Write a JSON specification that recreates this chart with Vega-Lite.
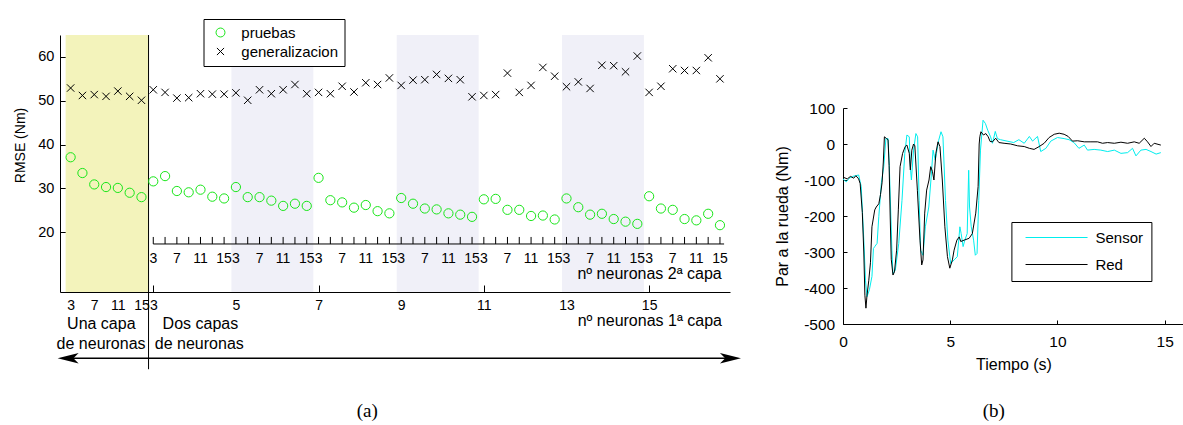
{
  "$schema": "https://vega.github.io/schema/vega-lite/v6.json",
  "padding": {"left": 13, "top": 18, "right": 0, "bottom": 0},
  "bounds": "flush",
  "spacing": 113,
  "resolve": {"scale": {"color": "independent", "shape": "independent"}, "legend": {"color": "independent", "shape": "independent"}},
  "config": {
    "view": {"stroke": null},
    "font": "Liberation Sans",
    "axis": {"grid": false, "domainColor": "black", "tickColor": "black", "labelColor": "black", "titleColor": "black", "titleFontWeight": "normal", "labelOverlap": false, "labelFlush": false, "labelBound": false, "zindex": 1, "labelFont": "Liberation Sans", "titleFont": "Liberation Sans"},
    "legend": {"labelFont": "Liberation Sans", "labelColor": "black"}
  },
  "datasets": {
    "rmse": [
      {"idx": 0, "capas": 1, "n1": 3, "n2": null, "pruebas": 37.1, "generalizacion": 52.9},
      {"idx": 1, "capas": 1, "n1": 5, "n2": null, "pruebas": 33.5, "generalizacion": 51.2},
      {"idx": 2, "capas": 1, "n1": 7, "n2": null, "pruebas": 30.9, "generalizacion": 51.4},
      {"idx": 3, "capas": 1, "n1": 9, "n2": null, "pruebas": 30.3, "generalizacion": 51.0},
      {"idx": 4, "capas": 1, "n1": 11, "n2": null, "pruebas": 30.1, "generalizacion": 52.2},
      {"idx": 5, "capas": 1, "n1": 13, "n2": null, "pruebas": 29.0, "generalizacion": 51.0},
      {"idx": 6, "capas": 1, "n1": 15, "n2": null, "pruebas": 28.0, "generalizacion": 50.1},
      {"idx": 7, "capas": 2, "n1": 3, "n2": 3, "pruebas": 31.6, "generalizacion": 52.5},
      {"idx": 8, "capas": 2, "n1": 3, "n2": 5, "pruebas": 32.8, "generalizacion": 51.9},
      {"idx": 9, "capas": 2, "n1": 3, "n2": 7, "pruebas": 29.4, "generalizacion": 50.6},
      {"idx": 10, "capas": 2, "n1": 3, "n2": 9, "pruebas": 29.1, "generalizacion": 50.7},
      {"idx": 11, "capas": 2, "n1": 3, "n2": 11, "pruebas": 29.7, "generalizacion": 51.6},
      {"idx": 12, "capas": 2, "n1": 3, "n2": 13, "pruebas": 28.1, "generalizacion": 51.5},
      {"idx": 13, "capas": 2, "n1": 3, "n2": 15, "pruebas": 27.7, "generalizacion": 51.5},
      {"idx": 14, "capas": 2, "n1": 5, "n2": 3, "pruebas": 30.3, "generalizacion": 51.8},
      {"idx": 15, "capas": 2, "n1": 5, "n2": 5, "pruebas": 28.0, "generalizacion": 50.1},
      {"idx": 16, "capas": 2, "n1": 5, "n2": 7, "pruebas": 28.0, "generalizacion": 52.5},
      {"idx": 17, "capas": 2, "n1": 5, "n2": 9, "pruebas": 27.2, "generalizacion": 51.6},
      {"idx": 18, "capas": 2, "n1": 5, "n2": 11, "pruebas": 26.0, "generalizacion": 52.5},
      {"idx": 19, "capas": 2, "n1": 5, "n2": 13, "pruebas": 26.5, "generalizacion": 53.7},
      {"idx": 20, "capas": 2, "n1": 5, "n2": 15, "pruebas": 26.0, "generalizacion": 51.6},
      {"idx": 21, "capas": 2, "n1": 7, "n2": 3, "pruebas": 32.4, "generalizacion": 51.9},
      {"idx": 22, "capas": 2, "n1": 7, "n2": 5, "pruebas": 27.3, "generalizacion": 51.6},
      {"idx": 23, "capas": 2, "n1": 7, "n2": 7, "pruebas": 26.8, "generalizacion": 53.3},
      {"idx": 24, "capas": 2, "n1": 7, "n2": 9, "pruebas": 25.6, "generalizacion": 52.0},
      {"idx": 25, "capas": 2, "n1": 7, "n2": 11, "pruebas": 26.2, "generalizacion": 54.1},
      {"idx": 26, "capas": 2, "n1": 7, "n2": 13, "pruebas": 24.8, "generalizacion": 53.7},
      {"idx": 27, "capas": 2, "n1": 7, "n2": 15, "pruebas": 24.3, "generalizacion": 55.2},
      {"idx": 28, "capas": 2, "n1": 9, "n2": 3, "pruebas": 27.8, "generalizacion": 53.5},
      {"idx": 29, "capas": 2, "n1": 9, "n2": 5, "pruebas": 26.5, "generalizacion": 54.7},
      {"idx": 30, "capas": 2, "n1": 9, "n2": 7, "pruebas": 25.4, "generalizacion": 54.8},
      {"idx": 31, "capas": 2, "n1": 9, "n2": 9, "pruebas": 25.2, "generalizacion": 56.0},
      {"idx": 32, "capas": 2, "n1": 9, "n2": 11, "pruebas": 24.3, "generalizacion": 55.1},
      {"idx": 33, "capas": 2, "n1": 9, "n2": 13, "pruebas": 24.0, "generalizacion": 54.8},
      {"idx": 34, "capas": 2, "n1": 9, "n2": 15, "pruebas": 23.5, "generalizacion": 50.9},
      {"idx": 35, "capas": 2, "n1": 11, "n2": 3, "pruebas": 27.5, "generalizacion": 51.2},
      {"idx": 36, "capas": 2, "n1": 11, "n2": 5, "pruebas": 27.6, "generalizacion": 51.4},
      {"idx": 37, "capas": 2, "n1": 11, "n2": 7, "pruebas": 25.1, "generalizacion": 56.3},
      {"idx": 38, "capas": 2, "n1": 11, "n2": 9, "pruebas": 25.1, "generalizacion": 51.9},
      {"idx": 39, "capas": 2, "n1": 11, "n2": 11, "pruebas": 23.7, "generalizacion": 53.5},
      {"idx": 40, "capas": 2, "n1": 11, "n2": 13, "pruebas": 23.8, "generalizacion": 57.6},
      {"idx": 41, "capas": 2, "n1": 11, "n2": 15, "pruebas": 22.9, "generalizacion": 55.6},
      {"idx": 42, "capas": 2, "n1": 13, "n2": 3, "pruebas": 27.7, "generalizacion": 53.2},
      {"idx": 43, "capas": 2, "n1": 13, "n2": 5, "pruebas": 25.7, "generalizacion": 54.3},
      {"idx": 44, "capas": 2, "n1": 13, "n2": 7, "pruebas": 24.0, "generalizacion": 52.8},
      {"idx": 45, "capas": 2, "n1": 13, "n2": 9, "pruebas": 24.2, "generalizacion": 58.1},
      {"idx": 46, "capas": 2, "n1": 13, "n2": 11, "pruebas": 23.0, "generalizacion": 58.0},
      {"idx": 47, "capas": 2, "n1": 13, "n2": 13, "pruebas": 22.4, "generalizacion": 56.6},
      {"idx": 48, "capas": 2, "n1": 13, "n2": 15, "pruebas": 21.9, "generalizacion": 60.2},
      {"idx": 49, "capas": 2, "n1": 15, "n2": 3, "pruebas": 28.2, "generalizacion": 51.9},
      {"idx": 50, "capas": 2, "n1": 15, "n2": 5, "pruebas": 25.4, "generalizacion": 53.3},
      {"idx": 51, "capas": 2, "n1": 15, "n2": 7, "pruebas": 25.1, "generalizacion": 57.3},
      {"idx": 52, "capas": 2, "n1": 15, "n2": 9, "pruebas": 23.0, "generalizacion": 56.9},
      {"idx": 53, "capas": 2, "n1": 15, "n2": 11, "pruebas": 22.7, "generalizacion": 56.9},
      {"idx": 54, "capas": 2, "n1": 15, "n2": 13, "pruebas": 24.2, "generalizacion": 59.8},
      {"idx": 55, "capas": 2, "n1": 15, "n2": 15, "pruebas": 21.6, "generalizacion": 55.0}
    ],
    "par": [
      {"t": 0, "serie": "Sensor", "par": -97}, {"t": 0.15, "serie": "Sensor", "par": -105}, {"t": 0.3, "serie": "Sensor", "par": -95}, {"t": 0.45, "serie": "Sensor", "par": -90}, {"t": 0.6, "serie": "Sensor", "par": -88}, {"t": 0.73, "serie": "Sensor", "par": -86}, {"t": 0.85, "serie": "Sensor", "par": -118}, {"t": 0.97, "serie": "Sensor", "par": -267}, {"t": 1.05, "serie": "Sensor", "par": -380}, {"t": 1.12, "serie": "Sensor", "par": -424}, {"t": 1.23, "serie": "Sensor", "par": -405}, {"t": 1.35, "serie": "Sensor", "par": -368}, {"t": 1.42, "serie": "Sensor", "par": -290}, {"t": 1.48, "serie": "Sensor", "par": -285}, {"t": 1.59, "serie": "Sensor", "par": -276}, {"t": 1.67, "serie": "Sensor", "par": -201}, {"t": 1.79, "serie": "Sensor", "par": -108}, {"t": 1.9, "serie": "Sensor", "par": -63}, {"t": 2.0, "serie": "Sensor", "par": 15}, {"t": 2.1, "serie": "Sensor", "par": 15}, {"t": 2.16, "serie": "Sensor", "par": -63}, {"t": 2.28, "serie": "Sensor", "par": -295}, {"t": 2.33, "serie": "Sensor", "par": -360}, {"t": 2.44, "serie": "Sensor", "par": -350}, {"t": 2.6, "serie": "Sensor", "par": -276}, {"t": 2.75, "serie": "Sensor", "par": -157}, {"t": 2.88, "serie": "Sensor", "par": -26}, {"t": 2.98, "serie": "Sensor", "par": 25}, {"t": 3.09, "serie": "Sensor", "par": 20}, {"t": 3.14, "serie": "Sensor", "par": -63}, {"t": 3.19, "serie": "Sensor", "par": -100}, {"t": 3.29, "serie": "Sensor", "par": -17}, {"t": 3.4, "serie": "Sensor", "par": 29}, {"t": 3.48, "serie": "Sensor", "par": 20}, {"t": 3.55, "serie": "Sensor", "par": -157}, {"t": 3.62, "serie": "Sensor", "par": -295}, {"t": 3.73, "serie": "Sensor", "par": -309}, {"t": 3.84, "serie": "Sensor", "par": -230}, {"t": 4.0, "serie": "Sensor", "par": -175}, {"t": 4.1, "serie": "Sensor", "par": -100}, {"t": 4.2, "serie": "Sensor", "par": -17}, {"t": 4.3, "serie": "Sensor", "par": -45}, {"t": 4.46, "serie": "Sensor", "par": 10}, {"t": 4.57, "serie": "Sensor", "par": 34}, {"t": 4.66, "serie": "Sensor", "par": 20}, {"t": 4.78, "serie": "Sensor", "par": -157}, {"t": 4.89, "serie": "Sensor", "par": -267}, {"t": 5.02, "serie": "Sensor", "par": -332}, {"t": 5.18, "serie": "Sensor", "par": -322}, {"t": 5.33, "serie": "Sensor", "par": -313}, {"t": 5.45, "serie": "Sensor", "par": -230}, {"t": 5.51, "serie": "Sensor", "par": -249}, {"t": 5.6, "serie": "Sensor", "par": -285}, {"t": 5.68, "serie": "Sensor", "par": -267}, {"t": 5.79, "serie": "Sensor", "par": -249}, {"t": 5.86, "serie": "Sensor", "par": -73}, {"t": 5.9, "serie": "Sensor", "par": -175}, {"t": 5.98, "serie": "Sensor", "par": -230}, {"t": 6.09, "serie": "Sensor", "par": -267}, {"t": 6.17, "serie": "Sensor", "par": -309}, {"t": 6.25, "serie": "Sensor", "par": -304}, {"t": 6.33, "serie": "Sensor", "par": -157}, {"t": 6.41, "serie": "Sensor", "par": -17}, {"t": 6.53, "serie": "Sensor", "par": 66}, {"t": 6.64, "serie": "Sensor", "par": 57}, {"t": 6.75, "serie": "Sensor", "par": 38}, {"t": 6.88, "serie": "Sensor", "par": 20}, {"t": 6.97, "serie": "Sensor", "par": 2}, {"t": 7.1, "serie": "Sensor", "par": 35}, {"t": 7.2, "serie": "Sensor", "par": 15}, {"t": 7.34, "serie": "Sensor", "par": 12}, {"t": 7.65, "serie": "Sensor", "par": 8}, {"t": 7.96, "serie": "Sensor", "par": 4}, {"t": 8.2, "serie": "Sensor", "par": 12}, {"t": 8.45, "serie": "Sensor", "par": 2}, {"t": 8.69, "serie": "Sensor", "par": 21}, {"t": 8.84, "serie": "Sensor", "par": 8}, {"t": 9.07, "serie": "Sensor", "par": 21}, {"t": 9.22, "serie": "Sensor", "par": -21}, {"t": 9.46, "serie": "Sensor", "par": -12}, {"t": 9.69, "serie": "Sensor", "par": 8}, {"t": 10.0, "serie": "Sensor", "par": 18}, {"t": 10.31, "serie": "Sensor", "par": 15}, {"t": 10.54, "serie": "Sensor", "par": 12}, {"t": 10.77, "serie": "Sensor", "par": 4}, {"t": 11.0, "serie": "Sensor", "par": -12}, {"t": 11.25, "serie": "Sensor", "par": -3}, {"t": 11.4, "serie": "Sensor", "par": -17}, {"t": 11.71, "serie": "Sensor", "par": -15}, {"t": 12.02, "serie": "Sensor", "par": -17}, {"t": 12.34, "serie": "Sensor", "par": -21}, {"t": 12.65, "serie": "Sensor", "par": -17}, {"t": 12.96, "serie": "Sensor", "par": -26}, {"t": 13.27, "serie": "Sensor", "par": -24}, {"t": 13.5, "serie": "Sensor", "par": -12}, {"t": 13.66, "serie": "Sensor", "par": -33}, {"t": 13.89, "serie": "Sensor", "par": -17}, {"t": 14.13, "serie": "Sensor", "par": -15}, {"t": 14.36, "serie": "Sensor", "par": -21}, {"t": 14.6, "serie": "Sensor", "par": -28}, {"t": 14.82, "serie": "Sensor", "par": -24},
      {"t": 0, "serie": "Red", "par": -92}, {"t": 0.2, "serie": "Red", "par": -97}, {"t": 0.35, "serie": "Red", "par": -90}, {"t": 0.5, "serie": "Red", "par": -95}, {"t": 0.6, "serie": "Red", "par": -88}, {"t": 0.73, "serie": "Red", "par": -97}, {"t": 0.8, "serie": "Red", "par": -110}, {"t": 0.9, "serie": "Red", "par": -190}, {"t": 0.97, "serie": "Red", "par": -300}, {"t": 1.02, "serie": "Red", "par": -420}, {"t": 1.07, "serie": "Red", "par": -456}, {"t": 1.12, "serie": "Red", "par": -420}, {"t": 1.2, "serie": "Red", "par": -380}, {"t": 1.28, "serie": "Red", "par": -330}, {"t": 1.35, "serie": "Red", "par": -230}, {"t": 1.48, "serie": "Red", "par": -183}, {"t": 1.55, "serie": "Red", "par": -175}, {"t": 1.67, "serie": "Red", "par": -166}, {"t": 1.75, "serie": "Red", "par": -140}, {"t": 1.82, "serie": "Red", "par": -108}, {"t": 1.88, "serie": "Red", "par": -50}, {"t": 1.93, "serie": "Red", "par": 20}, {"t": 2.03, "serie": "Red", "par": 15}, {"t": 2.1, "serie": "Red", "par": 12}, {"t": 2.15, "serie": "Red", "par": -60}, {"t": 2.2, "serie": "Red", "par": -200}, {"t": 2.25, "serie": "Red", "par": -320}, {"t": 2.33, "serie": "Red", "par": -364}, {"t": 2.4, "serie": "Red", "par": -355}, {"t": 2.5, "serie": "Red", "par": -295}, {"t": 2.58, "serie": "Red", "par": -183}, {"t": 2.66, "serie": "Red", "par": -63}, {"t": 2.78, "serie": "Red", "par": -26}, {"t": 2.9, "serie": "Red", "par": -7}, {"t": 2.98, "serie": "Red", "par": -3}, {"t": 3.09, "serie": "Red", "par": -26}, {"t": 3.14, "serie": "Red", "par": -72}, {"t": 3.21, "serie": "Red", "par": -17}, {"t": 3.29, "serie": "Red", "par": 0}, {"t": 3.35, "serie": "Red", "par": -5}, {"t": 3.47, "serie": "Red", "par": -130}, {"t": 3.59, "serie": "Red", "par": -267}, {"t": 3.67, "serie": "Red", "par": -336}, {"t": 3.73, "serie": "Red", "par": -322}, {"t": 3.81, "serie": "Red", "par": -192}, {"t": 3.9, "serie": "Red", "par": -128}, {"t": 4.01, "serie": "Red", "par": -100}, {"t": 4.09, "serie": "Red", "par": -63}, {"t": 4.17, "serie": "Red", "par": -76}, {"t": 4.24, "serie": "Red", "par": -100}, {"t": 4.33, "serie": "Red", "par": -26}, {"t": 4.43, "serie": "Red", "par": 6}, {"t": 4.52, "serie": "Red", "par": -7}, {"t": 4.63, "serie": "Red", "par": -100}, {"t": 4.75, "serie": "Red", "par": -230}, {"t": 4.87, "serie": "Red", "par": -313}, {"t": 4.98, "serie": "Red", "par": -345}, {"t": 5.1, "serie": "Red", "par": -322}, {"t": 5.18, "serie": "Red", "par": -295}, {"t": 5.31, "serie": "Red", "par": -267}, {"t": 5.42, "serie": "Red", "par": -258}, {"t": 5.49, "serie": "Red", "par": -271}, {"t": 5.65, "serie": "Red", "par": -267}, {"t": 5.88, "serie": "Red", "par": -262}, {"t": 6.03, "serie": "Red", "par": -249}, {"t": 6.19, "serie": "Red", "par": -192}, {"t": 6.3, "serie": "Red", "par": -118}, {"t": 6.35, "serie": "Red", "par": 0}, {"t": 6.38, "serie": "Red", "par": 20}, {"t": 6.43, "serie": "Red", "par": 34}, {"t": 6.55, "serie": "Red", "par": 25}, {"t": 6.66, "serie": "Red", "par": 29}, {"t": 6.77, "serie": "Red", "par": 20}, {"t": 6.86, "serie": "Red", "par": 7}, {"t": 6.97, "serie": "Red", "par": 6}, {"t": 7.12, "serie": "Red", "par": 16}, {"t": 7.27, "serie": "Red", "par": 4}, {"t": 7.51, "serie": "Red", "par": 2}, {"t": 7.82, "serie": "Red", "par": 0}, {"t": 8.14, "serie": "Red", "par": -5}, {"t": 8.45, "serie": "Red", "par": -7}, {"t": 8.69, "serie": "Red", "par": -12}, {"t": 8.91, "serie": "Red", "par": -15}, {"t": 9.15, "serie": "Red", "par": -7}, {"t": 9.38, "serie": "Red", "par": 2}, {"t": 9.61, "serie": "Red", "par": 18}, {"t": 9.85, "serie": "Red", "par": 27}, {"t": 10.08, "serie": "Red", "par": 30}, {"t": 10.31, "serie": "Red", "par": 27}, {"t": 10.5, "serie": "Red", "par": 21}, {"t": 10.7, "serie": "Red", "par": 8}, {"t": 10.94, "serie": "Red", "par": 9}, {"t": 11.25, "serie": "Red", "par": 6}, {"t": 11.56, "serie": "Red", "par": 6}, {"t": 11.87, "serie": "Red", "par": 6}, {"t": 12.1, "serie": "Red", "par": 2}, {"t": 12.34, "serie": "Red", "par": 4}, {"t": 12.65, "serie": "Red", "par": 2}, {"t": 12.96, "serie": "Red", "par": 5}, {"t": 13.27, "serie": "Red", "par": 2}, {"t": 13.58, "serie": "Red", "par": 6}, {"t": 13.81, "serie": "Red", "par": 2}, {"t": 14.05, "serie": "Red", "par": 16}, {"t": 14.2, "serie": "Red", "par": 6}, {"t": 14.36, "serie": "Red", "par": -7}, {"t": 14.51, "serie": "Red", "par": 2}, {"t": 14.82, "serie": "Red", "par": -3}
    ]
  },
  "hconcat": [
    {
      "width": 670,
      "height": 257,
      "layer": [
        {
          "data": {"name": "rmse"},
          "transform": [
            {"filter": "datum.capas == 1"},
            {"aggregate": [{"op": "min", "field": "idx", "as": "i0"}, {"op": "max", "field": "idx", "as": "i1"}]}
          ],
          "mark": {"type": "rect", "color": "#f3f3bb", "xOffset": -5, "x2Offset": 7},
          "encoding": {
            "x": {
              "field": "i0", "type": "quantitative",
              "scale": {"domain": [-0.9, 55.85], "nice": false, "zero": false},
              "axis": {
                "title": null,
                "values": [0, 1, 2, 3, 4, 5, 6, 7, 14, 21, 28, 35, 42, 49],
                "labelExpr": "datum.value < 7 ? (datum.value % 2 == 0 ? '' + (3 + 2 * datum.value) : '') : '' + (3 + 2 * (datum.value - 7) / 7)",
                "tickSize": -7,
                "labelPadding": 24.5,
                "labelBaseline": "alphabetic",
                "labelAngle": 0,
                "labelFontSize": 14
              }
            },
            "x2": {"field": "i1"},
            "y": {
              "datum": 65, "type": "quantitative",
              "scale": {"domain": [6.35, 65], "nice": false, "zero": false},
              "axis": {
                "title": "RMSE (Nm)",
                "values": [20, 30, 40, 50, 60],
                "tickSize": -7,
                "labelPadding": 13.2,
                "labelFontSize": 14.5,
                "titleFontSize": 14,
                "titleX": -39.5,
                "titleY": 110,
                "titleAngle": -90,
                "titleAlign": "center",
                "titleBaseline": "middle"
              }
            },
            "y2": {"datum": 6.35}
          }
        },
        {
          "data": {"name": "rmse"},
          "transform": [
            {"filter": "datum.capas == 2 && (datum.n1 == 5 || datum.n1 == 9 || datum.n1 == 13)"},
            {"aggregate": [{"op": "min", "field": "idx", "as": "i0"}, {"op": "max", "field": "idx", "as": "i1"}], "groupby": ["n1"]}
          ],
          "mark": {"type": "rect", "color": "#f0f0f8", "xOffset": -4.5, "x2Offset": 6.6},
          "encoding": {
            "x": {"field": "i0", "type": "quantitative"},
            "x2": {"field": "i1"},
            "y": {"datum": 65, "type": "quantitative"},
            "y2": {"datum": 6.35}
          }
        },
        {
          "data": {"values": [{}]},
          "mark": {"type": "rule", "color": "black", "strokeWidth": 1},
          "encoding": {
            "x": {"datum": 6.6, "type": "quantitative"},
            "y": {"datum": 65, "type": "quantitative"},
            "y2": {"datum": -11.27}
          }
        },
        {
          "data": {"name": "rmse"},
          "transform": [{"fold": ["pruebas", "generalizacion"], "as": ["serie", "rmse"]}],
          "mark": {"type": "point", "filled": false, "size": 85, "strokeWidth": 1, "opacity": 1},
          "encoding": {
            "x": {"field": "idx", "type": "quantitative"},
            "y": {"field": "rmse", "type": "quantitative"},
            "color": {
              "field": "serie", "type": "nominal",
              "scale": {"domain": ["pruebas", "generalizacion"], "range": ["#19e619", "#000000"]},
              "legend": {"title": null, "orient": "none", "legendX": 143.5, "legendY": -16, "padding": 6, "strokeColor": "black", "fillColor": "white", "labelFontSize": 15, "symbolSize": 80, "symbolStrokeWidth": 1, "symbolOpacity": 1, "symbolOffset": 3.5, "labelOffset": 13.3, "rowPadding": 3}
            },
            "shape": {
              "field": "serie", "type": "nominal",
              "scale": {"domain": ["pruebas", "generalizacion"], "range": ["circle", "M-0.8,-0.8L0.8,0.8M-0.8,0.8L0.8,-0.8"]},
              "legend": {"title": null, "orient": "none", "legendX": 143.5, "legendY": -16, "padding": 6, "strokeColor": "black", "fillColor": "white", "labelFontSize": 15, "symbolSize": 80, "symbolStrokeWidth": 1, "symbolOpacity": 1, "symbolOffset": 3.5, "labelOffset": 13.3, "rowPadding": 3}
            }
          }
        },
        {
          "data": {"values": [{}]},
          "mark": {"type": "rule", "color": "black", "strokeWidth": 1},
          "encoding": {
            "x": {"datum": 7, "type": "quantitative"},
            "x2": {"datum": 55.35},
            "y": {"datum": 17.31, "type": "quantitative"}
          }
        },
        {
          "data": {"name": "rmse"},
          "transform": [{"filter": "datum.capas == 2"}],
          "mark": {"type": "rule", "color": "black", "strokeWidth": 1},
          "encoding": {
            "x": {"field": "idx", "type": "quantitative"},
            "y": {"datum": 17.31, "type": "quantitative"},
            "y2": {"datum": 18.91}
          }
        },
        {
          "data": {"name": "rmse"},
          "transform": [{"filter": "datum.capas == 2 && datum.n2 % 4 == 3"}],
          "mark": {"type": "text", "fontSize": 14, "baseline": "middle", "align": "center", "color": "black"},
          "encoding": {
            "x": {"field": "idx", "type": "quantitative"},
            "y": {"datum": 13.88, "type": "quantitative"},
            "text": {"field": "n2", "type": "nominal"}
          }
        },
        {
          "data": {"values": [{}]},
          "mark": {"type": "text", "text": "nº neuronas 2ª capa", "fontSize": 16, "baseline": "middle", "align": "right", "color": "black"},
          "encoding": {"x": {"datum": 55.15, "type": "quantitative"}, "y": {"datum": 10.41, "type": "quantitative"}}
        },
        {
          "data": {"values": [{}]},
          "mark": {"type": "text", "text": "nº neuronas 1ª capa", "fontSize": 16, "baseline": "middle", "align": "right", "color": "black"},
          "encoding": {"x": {"datum": 55.17, "type": "quantitative"}, "y": {"datum": -0.32, "type": "quantitative"}}
        },
        {
          "data": {"values": [{}]},
          "mark": {"type": "text", "text": "Una capa", "fontSize": 16, "baseline": "middle", "align": "center", "color": "black"},
          "encoding": {"x": {"datum": 2.6, "type": "quantitative"}, "y": {"datum": -1.0, "type": "quantitative"}}
        },
        {
          "data": {"values": [{}]},
          "mark": {"type": "text", "text": "de neuronas", "fontSize": 16, "baseline": "middle", "align": "center", "color": "black"},
          "encoding": {"x": {"datum": 2.58, "type": "quantitative"}, "y": {"datum": -5.56, "type": "quantitative"}}
        },
        {
          "data": {"values": [{}]},
          "mark": {"type": "text", "text": "Dos capas", "fontSize": 16, "baseline": "middle", "align": "center", "color": "black"},
          "encoding": {"x": {"datum": 10.99, "type": "quantitative"}, "y": {"datum": -1.0, "type": "quantitative"}}
        },
        {
          "data": {"values": [{}]},
          "mark": {"type": "text", "text": "de neuronas", "fontSize": 16, "baseline": "middle", "align": "center", "color": "black"},
          "encoding": {"x": {"datum": 10.9, "type": "quantitative"}, "y": {"datum": -5.56, "type": "quantitative"}}
        },
        {
          "data": {"values": [{}]},
          "mark": {"type": "rule", "color": "black", "strokeWidth": 1.5},
          "encoding": {
            "x": {"datum": -0.5, "type": "quantitative"},
            "x2": {"datum": 56.3},
            "y": {"datum": -8.76, "type": "quantitative"}
          }
        },
        {
          "data": {"values": [{}]},
          "mark": {"type": "point", "shape": "M-1,0L1,-0.5L0.5,0L1,0.5Z", "size": 441, "filled": true, "color": "black", "opacity": 1, "strokeWidth": 0},
          "encoding": {"x": {"datum": -0.21, "type": "quantitative"}, "y": {"datum": -8.76, "type": "quantitative"}}
        },
        {
          "data": {"values": [{}]},
          "mark": {"type": "point", "shape": "M1,0L-1,-0.5L-0.5,0L-1,0.5Z", "size": 441, "filled": true, "color": "black", "opacity": 1, "strokeWidth": 0},
          "encoding": {"x": {"datum": 55.89, "type": "quantitative"}, "y": {"datum": -8.76, "type": "quantitative"}}
        },
        {
          "data": {"values": [{}]},
          "mark": {"type": "text", "text": "(a)", "font": "Liberation Serif", "fontSize": 19, "baseline": "middle", "align": "center", "color": "black"},
          "encoding": {"x": {"datum": 25.13, "type": "quantitative"}, "y": {"datum": -20.85, "type": "quantitative"}}
        }
      ]
    },
    {
      "width": 341,
      "height": 289,
      "layer": [
        {
          "data": {"name": "par"},
          "transform": [{"filter": "datum.serie == 'Sensor'"}],
          "mark": {"type": "line", "strokeWidth": 1},
          "encoding": {
            "x": {
              "field": "t", "type": "quantitative",
              "scale": {"domain": [0, 15.9], "nice": false, "zero": false},
              "axis": {"title": "Tiempo (s)", "values": [0, 5, 10, 15], "tickSize": -4, "labelPadding": 26.5, "labelBaseline": "alphabetic", "labelAngle": 0, "labelFontSize": 15.5, "titleFontSize": 16, "titleY": 40.3, "titleBaseline": "middle"}
            },
            "y": {
              "field": "par", "type": "quantitative",
              "scale": {"domain": [-500, 100], "range": [289, 73], "nice": false, "zero": false},
              "axis": {"title": "Par a la rueda (Nm)", "values": [-500, -400, -300, -200, -100, 0, 100], "labelExpr": "'' + datum.value", "tickSize": -4, "labelPadding": 12.3, "labelFontSize": 15.5, "titleFontSize": 16, "titleX": -60.6, "titleBaseline": "middle"}
            },
            "color": {
              "field": "serie", "type": "nominal",
              "scale": {"domain": ["Sensor", "Red"], "range": ["#00eeee", "#000000"]},
              "legend": {"title": null, "orient": "none", "legendX": 168.4, "legendY": 187, "padding": 8, "strokeColor": "black", "fillColor": "white", "labelFontSize": 15, "symbolType": "M-6,0H6", "symbolSize": 106.8, "symbolStrokeWidth": 1.2, "symbolOffset": 29.65, "labelOffset": 31.4, "rowPadding": 11}
            },
            "order": {"field": "t"}
          }
        },
        {
          "data": {"name": "par"},
          "transform": [{"filter": "datum.serie == 'Red'"}],
          "mark": {"type": "line", "strokeWidth": 1},
          "encoding": {
            "x": {"field": "t", "type": "quantitative"},
            "y": {"field": "par", "type": "quantitative"},
            "color": {"field": "serie", "type": "nominal"},
            "order": {"field": "t"}
          }
        },
        {
          "data": {"values": [{}]},
          "mark": {"type": "text", "text": "(b)", "font": "Liberation Serif", "fontSize": 19, "baseline": "middle", "align": "center", "color": "black"},
          "encoding": {"x": {"datum": 7.03, "type": "quantitative"}, "y": {"datum": -741.7, "type": "quantitative"}}
        }
      ]
    }
  ]
}
